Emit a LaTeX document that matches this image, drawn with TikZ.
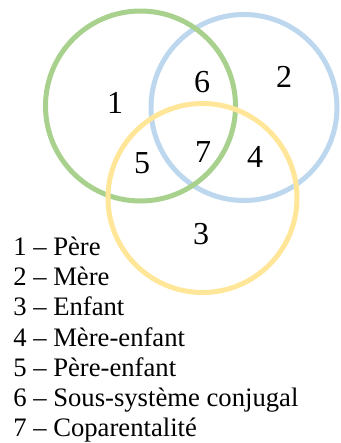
\documentclass[tikz,border=0pt]{standalone}
\usepackage{fontspec}
\setmainfont{Liberation Serif}
\usepackage{tikz}
\usetikzlibrary{positioning}

\definecolor{vert}{HTML}{A9D18E}
\definecolor{bleu}{HTML}{BDD7EE}
\definecolor{jaune}{HTML}{FFE699}

\begin{document}
\begin{tikzpicture}[
			x=0.75pt, y=-0.75pt, % 1 unit = 1 px
			ring/.style={circle,draw=#1,line width=3.75pt,inner sep=0pt},
			num/.style={inner sep=0pt,font=\fontsize{24}{28}\selectfont},
			leg/.style={anchor=base west,inner sep=0pt,font=\fontsize{20}{22.5}\selectfont}]
		\useasboundingbox (0,0) rectangle (340,443);
		% cercles (bleu sous vert sous jaune)
		\node (mere)   [ring=bleu,  minimum size=139.5pt] at (244,107.5) {};
		\node (pere)   [ring=vert,  minimum size=142.5pt] at (140.5,106) {};
		\node (enfant) [ring=jaune, minimum size=141.75pt] at (202.5,198) {};
		% zones
		\path 	(115,102.5) node (z1) [num] {1}
		        (284,77)    node (z2) [num] {2}
		        (201,234)   node (z3) [num] {3}
		        (255,157)   node (z4) [num] {4}
		        (142,163)   node (z5) [num] {5}
		        (202,82)    node (z6) [num] {6}
		        (203,152)   node (z7) [num] {7};
		% legende
		\path 	(13,255) node (l1) [leg] {1 – Père}
		        (13,285) node (l2) [leg] {2 – Mère}
		        (13,315) node (l3) [leg] {3 – Enfant}
		        (13,346) node (l4) [leg] {4 – Mère-enfant}
		        (13,376) node (l5) [leg] {5 – Père-enfant}
		        (13,406) node (l6) [leg] {6 – Sous-système conjugal}
		        (13,436) node (l7) [leg] {7 – Coparentalité};
	\end{tikzpicture}
\end{document}
